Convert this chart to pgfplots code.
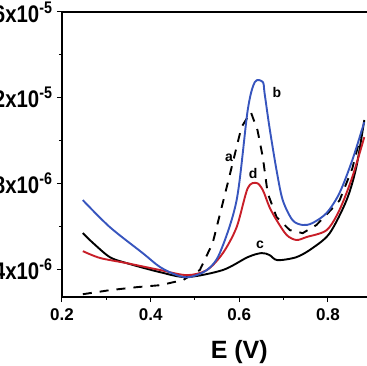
\documentclass[border=0pt]{standalone}
\usepackage{fontspec}
\setmainfont{Liberation Sans}
\usepackage{graphicx}
\usepackage{pgfplots}
\pgfplotsset{compat=1.18}
\definecolor{cblue}{RGB}{55,85,190}
\definecolor{cred}{RGB}{200,30,40}
\newcommand{\yl}[1]{\scalebox{0.85}[1]{#1}}
\begin{document}
\begin{tikzpicture}
\begin{axis}[
  at={(0,0)}, anchor=south west,
  scale only axis, width=354.6pt, height=285pt,
  xmin=0.2, xmax=1.0, ymin=2.7, ymax=16,
  xtick={0.2,0.4,0.6,0.8,1.0},
  minor xtick={0.3,0.5,0.7,0.9},
  ytick={4,8,12,16}, minor ytick={6,10,14},
  yticklabels={{\yl{4x10\textsuperscript{-6}}},{\yl{8x10\textsuperscript{-6}}},{\yl{1.2x10\textsuperscript{-5}}},{\yl{1.6x10\textsuperscript{-5}}}},
  /pgf/number format/assume math mode=true,
  xticklabel style={font=\bfseries\fontsize{17}{20}\selectfont, /pgf/number format/fixed, /pgf/number format/precision=1, yshift=-3pt},
  yticklabel style={font=\bfseries\fontsize{24}{26}\selectfont, xshift=-1pt},
  xlabel={E (V)},
  xlabel style={font=\bfseries\fontsize{25}{28}\selectfont, yshift=-13pt},
  tick align=outside,
  xtick pos=bottom, ytick pos=left,
  major tick length=5pt, minor tick length=3pt,
  axis line style={line width=1.2pt},
  every tick/.style={line width=1pt, black},
]
% a (dashed)
\addplot[black, line width=1.9pt, dash pattern=on 9pt off 8pt] coordinates {
(0.247,2.83) (0.308,3.02) (0.369,3.16) (0.421,3.25) (0.473,3.49) (0.511,3.96)
(0.540,5.22) (0.574,8.02) (0.605,10.63) (0.626,11.33) (0.641,10.49) (0.653,9.23)
(0.664,7.55) (0.684,6.43) (0.714,5.82) (0.743,5.68) (0.774,6.06) (0.797,6.55)
(0.826,7.20) (0.855,8.70) (0.882,10.90)};
% c (black)
\addplot[black, line width=1.9pt, smooth] coordinates {
(0.247,5.68) (0.270,5.22) (0.308,4.56) (0.346,4.28) (0.421,3.86) (0.482,3.63)
(0.563,3.96) (0.619,4.56) (0.650,4.75) (0.668,4.66) (0.686,4.42) (0.729,4.56)
(0.765,4.98) (0.804,5.68) (0.842,7.22) (0.864,8.76) (0.882,10.96)};
% d (red)
\addplot[cred, line width=1.9pt, smooth] coordinates {
(0.247,4.84) (0.286,4.52) (0.346,4.28) (0.421,3.96) (0.482,3.72) (0.527,3.96)
(0.563,4.75) (0.594,5.96) (0.619,7.78) (0.639,8.02) (0.653,7.69) (0.668,6.90)
(0.684,6.29) (0.707,5.59) (0.729,5.36) (0.752,5.50) (0.797,5.82) (0.826,6.76)
(0.855,8.30) (0.882,10.16)};
% b (blue)
\addplot[cblue, line width=1.9pt, smooth] coordinates {
(0.247,7.22) (0.308,5.96) (0.382,4.75) (0.421,4.10) (0.459,3.72) (0.488,3.63)
(0.527,3.96) (0.556,4.75) (0.594,7.22) (0.619,11.42) (0.635,12.73) (0.653,12.73)
(0.657,12.22) (0.668,10.63) (0.684,8.62) (0.698,7.22) (0.720,6.29) (0.743,6.06)
(0.765,6.15) (0.797,6.62) (0.826,7.55) (0.855,9.09) (0.882,10.86)};
\node[font=\bfseries\fontsize{14}{14}\selectfont] at (axis cs:0.577,9.18) {a};
\node[font=\bfseries\fontsize{14}{14}\selectfont] at (axis cs:0.685,12.22) {b};
\node[font=\bfseries\fontsize{14}{14}\selectfont] at (axis cs:0.647,5.12) {c};
\node[font=\bfseries\fontsize{14}{14}\selectfont] at (axis cs:0.631,8.48) {d};
\end{axis}
\pgfresetboundingbox
\path[use as bounding box] (-62pt,-69pt) rectangle (304pt,297pt);
\end{tikzpicture}
\end{document}
